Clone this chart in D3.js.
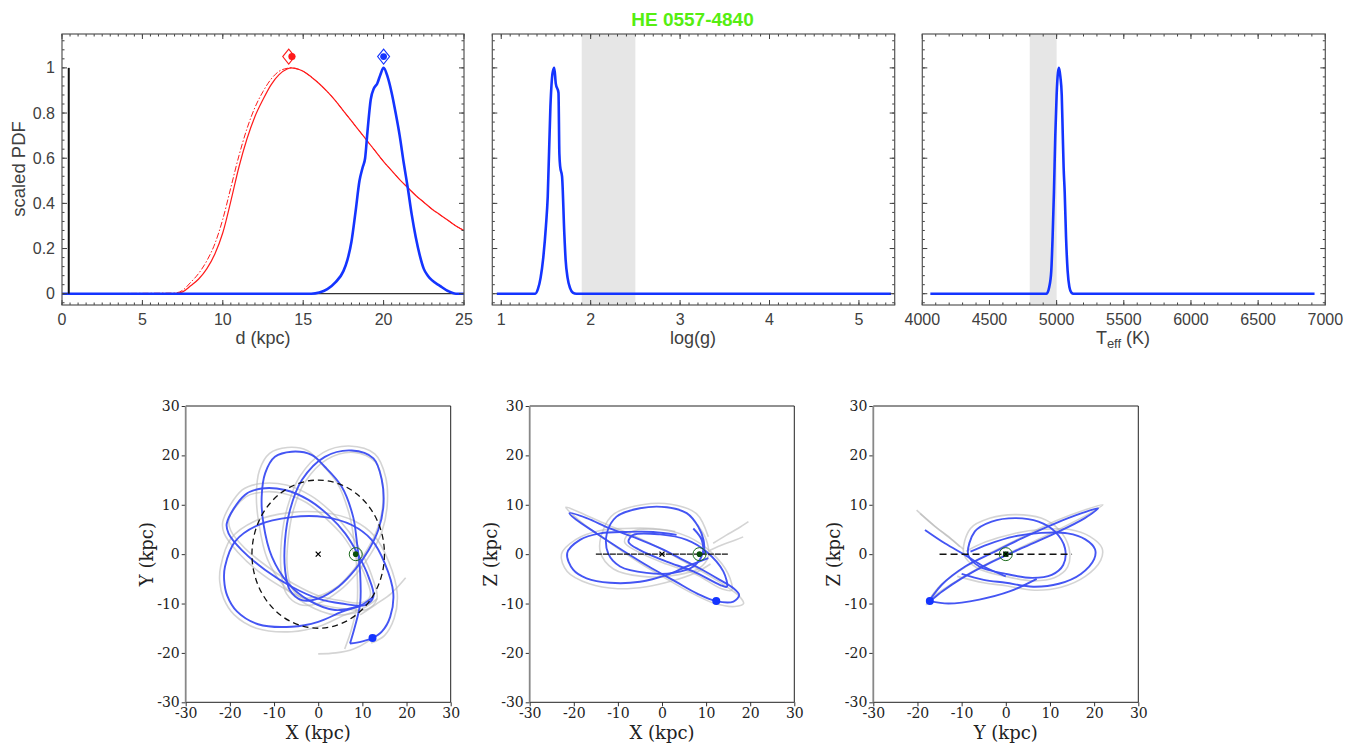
<!DOCTYPE html>
<html><head><meta charset="utf-8">
<script src="https://cdn.jsdelivr.net/npm/d3@7"></script>
<style>body{margin:0;background:#fff}svg{display:block}</style>
</head><body>
<svg id="chart" width="1360" height="746"></svg>
<script>
// ---------------- DATA ----------------
const titleText = "HE 0557-4840";
// distance PDFs
const distRed = [0,7,7.5,8,8.5,9,9.5,10,10.5,11,11.5,12,12.5,13,13.5,14,14.25,14.5,15,15.5,16,16.5,17,17.5,18,18.5,19,19.5,20,20.5,21,21.5,22,22.5,23,23.5,24,24.5,25];
const pdfRed  = [0,0,0.008,0.035,0.065,0.11,0.175,0.27,0.41,0.56,0.685,0.785,0.86,0.925,0.97,0.995,1.0,0.998,0.985,0.96,0.93,0.895,0.855,0.81,0.765,0.72,0.675,0.63,0.585,0.545,0.505,0.47,0.435,0.405,0.375,0.35,0.325,0.30,0.28];
const pdfRedDash = [0,0.003,0.015,0.05,0.09,0.145,0.22,0.33,0.47,0.61,0.73,0.825,0.895,0.95,0.985,0.998,1.0,0.998,0.985,0.96,0.93,0.895,0.855,0.81,0.765,0.72,0.675,0.63,0.585,0.545,0.505,0.47,0.435,0.405,0.375,0.35,0.325,0.30,0.28];
const distBlue = [0,15.5,16,16.5,17,17.5,17.75,18,18.25,18.5,18.7,18.85,19.0,19.2,19.4,19.6,19.8,20.0,20.25,20.5,20.75,21.0,21.25,21.5,21.75,22.0,22.25,22.5,22.75,23.0,23.5,24,24.5,25];
const pdfBlue  = [0,0,0.005,0.02,0.05,0.1,0.15,0.23,0.36,0.5,0.56,0.6,0.72,0.86,0.91,0.93,0.97,1.0,0.96,0.89,0.8,0.7,0.58,0.47,0.35,0.25,0.17,0.11,0.08,0.06,0.035,0.012,0,0];
const parallaxSpike = {d:0.42, top:1};
const modeRed = {diamond:14.1, dot:14.3, y:1.05};
const modeBlue = {diamond:20.0, dot:20.0, y:1.05};
// log g PDF
const loggVals = [0.95,1.38,1.41,1.44,1.47,1.50,1.52,1.55,1.575,1.593,1.61,1.64,1.65,1.66,1.68,1.705,1.72,1.742,1.77,1.80,1.84,5.36];
const loggPdf  = [0,0,0.02,0.07,0.16,0.3,0.43,0.83,0.98,1.0,0.93,0.89,0.62,0.56,0.52,0.27,0.15,0.07,0.025,0.005,0,0];
const loggBand = [1.9,2.5];
// Teff PDF
const teffVals = [4060,4925,4945,4960,4970,4980,4990,5000,5010,5018,5028,5038,5045,5052,5060,5070,5082,5095,5110,5125,6920];
const teffPdf  = [0,0,0.03,0.1,0.25,0.45,0.7,0.88,0.98,1.0,0.96,0.88,0.72,0.56,0.45,0.25,0.1,0.03,0.005,0,0];
const teffBand = [4800,5000];
// tick labels
const pdfTicks = [0,0.2,0.4,0.6,0.8,1];
const distTicks = [0,5,10,15,20,25];
const loggTicks = [1,2,3,4,5];
const teffTicks = [4000,4500,5000,5500,6000,6500,7000];
const orbitTicks = [-30,-20,-10,0,10,20,30];

// Orbits (kpc) - XY projection: closed loops and open arcs
const xyBlueLoops = [
 [[7.6,21],[12.5,19.4],[14.4,15],[14.75,9.6],[13.6,4.9],[11.4,0.8],[8.3,-3.2],[4.6,-6.6],[0,-9],[-3.7,-9.3],[-6.4,-7.3],[-7.5,-3.2],[-7.5,2.9],[-6.4,8.9],[-3.7,15],[1.5,19.7]],
 [[-20.7,6.2],[-16.6,12],[-12.8,13.3],[-7.5,13],[-2.2,11],[2.3,7.9],[6.1,4.2],[9.1,-0.2],[11.4,-4.6],[12.5,-8.6],[10.6,-10.3],[5.3,-10],[0,-9],[-6,-6.6],[-12,-3.2],[-17.3,0.8],[-20.3,4.2]]
];
const xyBlueArcs = [
 [[7.2,-18.1],[8.3,-14.7],[9.5,-10],[9.5,-3.9],[8.7,2.9],[7.9,7.6],[5.3,13.7],[1.5,17.7],[-1.5,20.1],[-6,20.75],[-9.8,19.7],[-12,16.4],[-12.8,11.6],[-12.4,6.2],[-10.5,-0.5],[-6.8,-5.9],[-2.2,-9.3],[3.8,-11.3],[9.1,-10.6]],
 [[12.1,-17.1],[14.4,-15.7],[16.3,-12.7],[17,-7.9],[15.1,-1.9],[12.1,2.9],[7.6,5.9],[1.5,7.5],[-6,7.5],[-13.6,5.9],[-18.8,2.6],[-21.1,-2.5],[-21.3,-5.2],[-20.6,-8.4],[-18.4,-11.6],[-13.6,-14.2],[-6,-14.7],[0,-13.7],[5.3,-11.7],[9.8,-10.3],[12.5,-8.6]],
 [[7.2,-18.1],[9.8,-17.7],[12.1,-17.1]]
];
const xyGreyLoops = [
 [[7,21.9],[12.8,20.3],[15.3,15.5],[15.6,9.6],[14.4,4.5],[12,0.2],[8.8,-3.8],[4.8,-7.4],[0,-10],[-4.2,-10.2],[-7.2,-8],[-8.4,-3.4],[-8.3,3],[-7,9.4],[-4.2,15.7],[1.2,20.6]],
 [[8.2,20.6],[13,18.6],[14.6,14.2],[14.5,9],[13,4.2],[10.6,0.2],[7.6,-3.6],[4,-6.8],[-0.4,-8.6],[-3.6,-8.8],[-6,-6.8],[-7,-3],[-6.8,3],[-5.6,9],[-3,14.6],[2,19.2]],
 [[-21.6,6.6],[-17.2,13],[-13,14.3],[-7.2,14],[-1.6,11.8],[3,8.5],[7,4.5],[10,0],[12.2,-4.6],[13.3,-9],[11,-11.2],[5.3,-11],[-0.4,-10],[-6.6,-7.5],[-12.8,-4],[-18.2,0.4],[-21.3,4.2]],
 [[-20.2,7.2],[-16.4,11.6],[-12.4,12.6],[-7.8,12.3],[-2.6,10.4],[1.8,7.2],[5.6,3.7],[8.6,-0.6],[10.8,-4.8],[11.8,-8.4],[10,-9.8],[5,-9.4],[0,-8.4],[-5.6,-6],[-11.4,-2.6],[-16.6,1.2],[-19.8,4.8]]
];
const xyGreyArcs = [
 [[6,-19.2],[7.6,-15],[8.8,-10],[8.8,-3.5],[8,3.5],[7,8.2],[4.4,14.3],[0.5,18.5],[-2.5,21],[-7,21.6],[-11,20.4],[-13.3,17],[-14,11.8],[-13.4,6],[-11.5,-1],[-7.6,-6.6],[-2.6,-10.2],[3.8,-12.3],[9.6,-11.6]],
 [[12,-18],[15,-16.5],[17.2,-13],[17.9,-8],[16,-1.6],[12.8,3.6],[8,6.8],[1.5,8.4],[-6.5,8.4],[-14.3,6.7],[-19.8,3.1],[-22.1,-2.6],[-22.3,-5.5],[-21.4,-9],[-19,-12.3],[-14,-15],[-6,-15.7],[0.3,-14.6],[5.8,-12.4],[10.5,-10.8],[13.4,-9]],
 [[0,-20.2],[4,-20],[8,-19.2],[11,-17.8],[13,-16.3]],
 [[9.5,-12.3],[13,-10.2],[16.5,-8],[19.8,-4.8]]
];
// XZ projection
const xzBlueLoops = [
 [[-21,8.3],[-17.1,7.3],[-11.8,5.2],[-5.7,3.2],[-0.45,1.2],[4.1,-0.85],[8.6,-2.9],[13.1,-5.2],[16.2,-6.9],[17.5,-8.3],[16.2,-9.6],[12.2,-9.5],[8,-8],[3,-5.5],[-3,-2.5],[-9,0.8],[-15,4.3],[-19.5,7]],
 [[-7.6,2.5],[-6.5,3.9],[-0.45,4.0],[5.6,2.9],[10.1,0.5],[13.9,-3.5],[14.7,-6.6],[13.1,-6.2],[7.1,-3.5],[1.05,-1.5],[-5,0.8]]
];
const xzBlueArcs = [
 [[3.3,3.9],[-2,4.5],[-8,4.5],[-14,4.2],[-18.6,2.9],[-21.5,0.2],[-20.1,-3.2],[-17.1,-4.9],[-11.8,-5.8],[-5,-5.6],[1.1,-4.2],[5.6,-2.5],[10.5,-0.8]],
 [[7.1,5.2],[9,2.9],[9.2,0.15],[7.1,-2.5],[2.6,-3.8],[-3.5,-3.8],[-9.5,-2.5],[-12.2,0.15],[-12.5,4.2],[-10.3,7.6],[-5,9.3],[1.1,9.5],[5.6,8.3],[8.2,5.6],[9.4,2.9],[9.6,0]]
];
const xzGreyLoops = [
 [[-21.8,9.5],[-17.5,8],[-12,5.8],[-6,3.6],[0,1],[5,-1.5],[10,-4],[14.5,-6.5],[17.5,-8.5],[18.5,-10],[16.5,-10.6],[12,-10],[7,-8],[1,-5],[-5,-1.8],[-11,1.8],[-16.5,5.2],[-20.5,8.2]],
 [[-8.5,2.5],[-7,4.5],[-0.5,5],[6,3.5],[11,0.5],[15,-4],[15.8,-7.3],[13.5,-7],[7.5,-4],[1,-2],[-5.5,0.5]]
];
const xzGreyArcs = [
 [[3,4.6],[-2,5.2],[-8.5,5.2],[-14,4.8],[-19.5,3],[-22.8,0],[-21.5,-3.5],[-16.5,-6],[-10,-7],[-3.5,-6.6],[2,-5.5],[7.5,-3.8],[11,-2]],
 [[8,6],[10,3],[10.5,-0.5],[8.5,-2.8],[3.5,-4.2],[-4.5,-4.5],[-11,-3],[-14,0.5],[-13.3,5],[-10.8,8.2],[-4.5,10],[2,10.1],[7.8,8.2],[10.5,3.5]],
 [[10.9,0.8],[14,2],[16.5,2.8],[18.4,3.5]],
 [[11.6,2.2],[14.5,3.8],[17.2,5.2],[19.6,6.6]]
];
// YZ projection
const yzBlueLoops = [
 [[-17.2,-9.5],[-14.5,-6.2],[-9.2,-2.5],[-3.2,0.2],[3.6,3.2],[11.1,6.2],[17.2,8.3],[20.9,9.3],[17.9,7.3],[11.1,4.2],[3.6,1.2],[-3.9,-1.9],[-10,-4.9],[-14.5,-7.6]],
 [[-8.5,-0.2],[-7,4.6],[-3.2,6.6],[2.1,7.3],[7.4,6.6],[11.1,4.6],[13.4,1.2],[13,-2.2],[10.4,-4.2],[6,-4.8],[0,-4],[-6,-2.5]]
];
const yzBlueArcs = [
 [[-17.2,-9.5],[-13,-10],[-6,-9.2],[1,-7.5],[7,-5]],
 [[-10,-4],[-5,-5.2],[0,-5.8],[6.2,-6.6],[12,-6],[17,-4],[20,-1],[20.2,1],[18,3],[14,4.2],[8,4.3],[2,3.6],[-4,2],[-8,0.5]],
 [[-18.3,4.9],[-13.8,2.2],[-9.2,-0.2],[-5,-2.5],[0,-4.5]]
];
const yzGreyLoops = [
 [[-18,-10.2],[-15,-6.5],[-9.5,-2.8],[-3,0.5],[4,3.6],[11.5,6.8],[18,9],[22,10],[18.5,8],[11.5,4.8],[4,1.6],[-3.5,-1.6],[-10,-4.8],[-15.5,-8]],
 [[-9.5,0],[-8,5.2],[-3.5,7.3],[2,8],[8,7.3],[12,5],[14.3,1.3],[14,-2.6],[11,-4.8],[6,-5.4],[0,-4.5],[-6.5,-2.8]]
];
const yzGreyArcs = [
 [[-11,-4.5],[-5,-5.8],[0,-6.4],[6.5,-7.3],[12.5,-6.7],[18,-4.5],[21.5,-1.2],[21.8,1.2],[19,3.6],[14.5,5],[8,5],[2,4.2],[-4.5,2.5],[-9,0.6]],
 [[-20.2,8.9],[-16,5.6],[-12.5,3.2],[-10.4,1.5]],
 [[-19.4,8.2],[-15.5,5.2],[-12,2.8],[-9.6,1]]
];
const gcPos = [0,0];
const sunXY = [8.5,0], sunXZ = [8.5,0], sunYZ = [0,0];
const starXY = [12.3,-17.0], starXZ = [12.3,-9.5], starYZ = [-17.2,-9.5];
const solarCircleR = 15;

// ---------------- DRAWING ----------------
const svg = d3.select("#chart");
const SANS = "'Liberation Sans', Arial, Helvetica, sans-serif";
const SERIF = "'DejaVu Serif', serif";
const AX = "#404040";
const BLUE = "#1434ff", RED = "#ff1a1a";

svg.append("text").attr("x",692.5).attr("y",26).attr("text-anchor","middle")
  .attr("font-family",SANS).attr("font-weight","bold").attr("font-size",19)
  .attr("fill","#55ee11").text(titleText);

function topPanel(x0,x1,xDom,xMajor,xMinorStep,showY,id){
  const y0=34,y1=305;
  const x=d3.scaleLinear().domain(xDom).range([x0,x1]);
  const y=d3.scaleLinear().domain([-0.05,1.15]).range([y1,y0]);
  const g=svg.append("g");
  g.append("clipPath").attr("id",id).append("rect").attr("x",x0).attr("y",y0).attr("width",x1-x0).attr("height",y1-y0);
  const plot=g.append("g").attr("clip-path",`url(#${id})`);
  const frame=g.append("g");
  const minors=[]; for(let v=Math.ceil(xDom[0]/xMinorStep)*xMinorStep; v<=xDom[1]+1e-9; v+=xMinorStep) minors.push(+v.toFixed(6));
  const yMin=[]; for(let v=-0.04; v<=1.15; v+=0.04) yMin.push(+v.toFixed(4));
  const tk=(a,b,c,d)=>frame.append("line").attr("x1",a).attr("y1",b).attr("x2",c).attr("y2",d).attr("stroke",AX).attr("stroke-width",1);
  minors.forEach(v=>{const px=x(v); tk(px,y1,px,y1-2.5); tk(px,y0,px,y0+2.5);});
  xMajor.forEach(v=>{const px=x(v); if(px<x0-0.5||px>x1+0.5) return; tk(px,y1,px,y1-5); tk(px,y0,px,y0+5);});
  yMin.forEach(v=>{const py=y(v); tk(x0,py,x0+2.5,py); tk(x1,py,x1-2.5,py);});
  pdfTicks.forEach(v=>{const py=y(v); tk(x0,py,x0+5,py); tk(x1,py,x1-5,py);});
  frame.append("rect").attr("x",x0).attr("y",y0).attr("width",x1-x0).attr("height",y1-y0).attr("fill","none").attr("stroke","#555").attr("stroke-width",1.2);
  xMajor.forEach(v=>{frame.append("text").attr("x",x(v)).attr("y",325).attr("text-anchor","middle")
    .attr("font-family",SANS).attr("font-size",16).attr("fill",AX).text(String(v));});
  if(showY) pdfTicks.forEach(v=>{frame.append("text").attr("x",x0-7).attr("y",y(v)+5.5).attr("text-anchor","end")
    .attr("font-family",SANS).attr("font-size",16).attr("fill",AX).text(String(v));});
  return {x,y,plot,frame};
}

// Panel 1: distance
const p1=topPanel(62,464,[0,25],distTicks,0.5,true,"c1");
const line1=d3.line().x(d=>p1.x(d[0])).y(d=>p1.y(d[1])).curve(d3.curveMonotoneX);
p1.plot.append("line").attr("x1",p1.x(0)).attr("x2",p1.x(25)).attr("y1",p1.y(0)).attr("y2",p1.y(0)).attr("stroke","#000").attr("stroke-width",1);
p1.plot.append("path").attr("d",line1(distRed.map((d,i)=>[d,pdfRedDash[i]]))).attr("fill","none").attr("stroke",RED).attr("stroke-width",1).attr("stroke-dasharray","6,2,1.5,2");
p1.plot.append("path").attr("d",line1(distRed.map((d,i)=>[d,pdfRed[i]]))).attr("fill","none").attr("stroke",RED).attr("stroke-width",1.2);
p1.plot.append("path").attr("d",line1(distBlue.map((d,i)=>[d,pdfBlue[i]]))).attr("fill","none").attr("stroke",BLUE).attr("stroke-width",2.6);
p1.plot.append("line").attr("x1",p1.x(parallaxSpike.d)).attr("x2",p1.x(parallaxSpike.d)).attr("y1",p1.y(0)).attr("y2",p1.y(parallaxSpike.top)).attr("stroke","#111").attr("stroke-width",2);
function diamond(g,cx,cy,col){g.append("path").attr("d",`M${cx},${cy-7.5}L${cx+6},${cy}L${cx},${cy+7.5}L${cx-6},${cy}Z`).attr("fill","#fff").attr("stroke",col).attr("stroke-width",1.1);}
diamond(p1.plot,p1.x(modeRed.diamond),p1.y(modeRed.y),RED);
p1.plot.append("circle").attr("cx",p1.x(modeRed.dot)).attr("cy",p1.y(modeRed.y)).attr("r",3.6).attr("fill",RED);
diamond(p1.plot,p1.x(modeBlue.diamond),p1.y(modeBlue.y),BLUE);
p1.plot.append("circle").attr("cx",p1.x(modeBlue.dot)).attr("cy",p1.y(modeBlue.y)).attr("r",3.4).attr("fill",BLUE);
svg.append("text").attr("x",263).attr("y",344).attr("text-anchor","middle").attr("font-family",SANS).attr("font-size",18).attr("fill",AX).text("d (kpc)");
svg.append("text").attr("transform","translate(25,169) rotate(-90)").attr("text-anchor","middle").attr("font-family",SANS).attr("font-size",18.5).attr("fill",AX).text("scaled PDF");

// Panel 2: log g
const p2=topPanel(492.3,894.7,[0.9,5.4],loggTicks,0.1,false,"c2");
p2.plot.append("rect").attr("x",p2.x(loggBand[0])).attr("y",34).attr("width",p2.x(loggBand[1])-p2.x(loggBand[0])).attr("height",271).attr("fill","#e6e6e6");
p2.plot.append("path").attr("d",d3.line().x(d=>p2.x(d[0])).y(d=>p2.y(d[1])).curve(d3.curveMonotoneX)(loggVals.map((d,i)=>[d,loggPdf[i]])))
  .attr("fill","none").attr("stroke",BLUE).attr("stroke-width",2.6);
svg.append("text").attr("x",693).attr("y",344).attr("text-anchor","middle").attr("font-family",SANS).attr("font-size",18).attr("fill",AX).text("log(g)");

// Panel 3: Teff
const p3=topPanel(922.3,1325.3,[4000,7000],teffTicks,100,false,"c3");
p3.plot.append("rect").attr("x",p3.x(teffBand[0])).attr("y",34).attr("width",p3.x(teffBand[1])-p3.x(teffBand[0])).attr("height",271).attr("fill","#e6e6e6");
p3.plot.append("path").attr("d",d3.line().x(d=>p3.x(d[0])).y(d=>p3.y(d[1])).curve(d3.curveMonotoneX)(teffVals.map((d,i)=>[d,teffPdf[i]])))
  .attr("fill","none").attr("stroke",BLUE).attr("stroke-width",2.6);
const tl=svg.append("text").attr("x",1123).attr("y",344).attr("text-anchor","middle").attr("font-family",SANS).attr("font-size",18).attr("fill",AX);
tl.append("tspan").text("T");
tl.append("tspan").attr("font-size",13).attr("dy",4).text("eff");
tl.append("tspan").attr("dy",-4).text(" (K)");

// ---------- Orbit panels ----------
function orbitPanel(x0,x1,xl,yl,id){
  const y0=406,y1=702.3;
  const x=d3.scaleLinear().domain([-30,30]).range([x0,x1]);
  const y=d3.scaleLinear().domain([-30,30]).range([y1,y0]);
  const g=svg.append("g");
  g.append("clipPath").attr("id",id).append("rect").attr("x",x0).attr("y",y0).attr("width",x1-x0).attr("height",y1-y0);
  const plot=g.append("g").attr("clip-path",`url(#${id})`);
  const style=a=>{a.select(".domain").remove(); a.selectAll("text").attr("font-family",SERIF).attr("font-size",14).attr("fill","#222"); a.selectAll("line").attr("stroke","#333");};
  g.append("g").attr("transform",`translate(0,${y1})`).call(d3.axisBottom(x).tickValues(orbitTicks).tickSize(4).tickPadding(2).tickFormat(d=>String(d))).call(style);
  g.append("g").attr("transform",`translate(${x0},0)`).call(d3.axisLeft(y).tickValues(orbitTicks).tickSize(4).tickPadding(2).tickFormat(d=>String(d))).call(style);
  g.append("line").attr("x1",x0).attr("x2",x1).attr("y1",y0).attr("y2",y0).attr("stroke","#222").attr("stroke-width",1);
  g.append("line").attr("x1",x1).attr("x2",x1).attr("y1",y0).attr("y2",y1).attr("stroke","#222").attr("stroke-width",1);
  g.append("line").attr("x1",x0).attr("x2",x1).attr("y1",y1).attr("y2",y1).attr("stroke","#222").attr("stroke-width",1);
  g.append("line").attr("x1",x0).attr("x2",x0).attr("y1",y0).attr("y2",y1).attr("stroke","#888").attr("stroke-width",1.8);
  svg.append("text").attr("x",(x0+x1)/2).attr("y",739).attr("text-anchor","middle").attr("font-family",SERIF).attr("font-size",18).attr("fill","#222").text(xl);
  svg.append("text").attr("transform",`translate(${x0-33},${(y0+y1)/2}) rotate(-90)`).attr("text-anchor","middle").attr("font-family",SERIF).attr("font-size",18).attr("fill","#222").text(yl);
  const open=d3.line().x(d=>x(d[0])).y(d=>y(d[1])).curve(d3.curveCatmullRom.alpha(0.5));
  const closed=d3.line().x(d=>x(d[0])).y(d=>y(d[1])).curve(d3.curveCatmullRomClosed.alpha(0.5));
  return {x,y,plot,open,closed};
}
function drawOrbits(P,gLoops,gArcs,bLoops,bArcs){
  const grey=(d)=>P.plot.append("path").attr("d",d).attr("fill","none").attr("stroke","#b8b8b8").attr("stroke-opacity",0.6).attr("stroke-width",1.6);
  const blue=(d)=>P.plot.append("path").attr("d",d).attr("fill","none").attr("stroke","#3a4cf2").attr("stroke-opacity",0.95).attr("stroke-width",1.9);
  gLoops.forEach(a=>grey(P.closed(a))); gArcs.forEach(a=>grey(P.open(a)));
  bLoops.forEach(a=>blue(P.closed(a))); bArcs.forEach(a=>blue(P.open(a)));
}
function sunMark(P,s){
  P.plot.append("circle").attr("cx",P.x(s[0])).attr("cy",P.y(s[1])).attr("r",6.5).attr("fill","none").attr("stroke","#1d6b1d").attr("stroke-width",1);
  P.plot.append("circle").attr("cx",P.x(s[0])).attr("cy",P.y(s[1])).attr("r",2.8).attr("fill","#0a4f0a");
}
function gcMark(P,c){
  const cx=P.x(c[0]),cy=P.y(c[1]);
  P.plot.append("path").attr("d",`M${cx-2.5},${cy-2.5}L${cx+2.5},${cy+2.5}M${cx-2.5},${cy+2.5}L${cx+2.5},${cy-2.5}`).attr("stroke","#000").attr("stroke-width",1.3);
}
function starMark(P,s){P.plot.append("circle").attr("cx",P.x(s[0])).attr("cy",P.y(s[1])).attr("r",4).attr("fill","#1434ff");}

const o1=orbitPanel(185.7,450.7,"X (kpc)","Y (kpc)","o1");
drawOrbits(o1,xyGreyLoops,xyGreyArcs,xyBlueLoops,xyBlueArcs);
o1.plot.append("ellipse").attr("cx",o1.x(0)).attr("cy",o1.y(0)).attr("rx",o1.x(solarCircleR)-o1.x(0)).attr("ry",o1.y(0)-o1.y(solarCircleR))
  .attr("fill","none").attr("stroke","#111").attr("stroke-width",1.3).attr("stroke-dasharray","6,4");
gcMark(o1,gcPos); sunMark(o1,sunXY); starMark(o1,starXY);

const o2=orbitPanel(529.7,794.3,"X (kpc)","Z (kpc)","o2");
drawOrbits(o2,xzGreyLoops,xzGreyArcs,xzBlueLoops,xzBlueArcs);
o2.plot.append("line").attr("x1",o2.x(-solarCircleR)).attr("x2",o2.x(solarCircleR)).attr("y1",o2.y(0)).attr("y2",o2.y(0)).attr("stroke","#111").attr("stroke-width",1.3).attr("stroke-dasharray","6,1");
gcMark(o2,gcPos); sunMark(o2,sunXZ); starMark(o2,starXZ);

const o3=orbitPanel(873.3,1138.3,"Y (kpc)","Z (kpc)","o3");
drawOrbits(o3,yzGreyLoops,yzGreyArcs,yzBlueLoops,yzBlueArcs);
o3.plot.append("line").attr("x1",o3.x(-solarCircleR)).attr("x2",o3.x(solarCircleR)).attr("y1",o3.y(0)).attr("y2",o3.y(0)).attr("stroke","#111").attr("stroke-width",1.5).attr("stroke-dasharray","7,4");
sunMark(o3,sunYZ); gcMark(o3,gcPos); starMark(o3,starYZ);
</script></body></html>
